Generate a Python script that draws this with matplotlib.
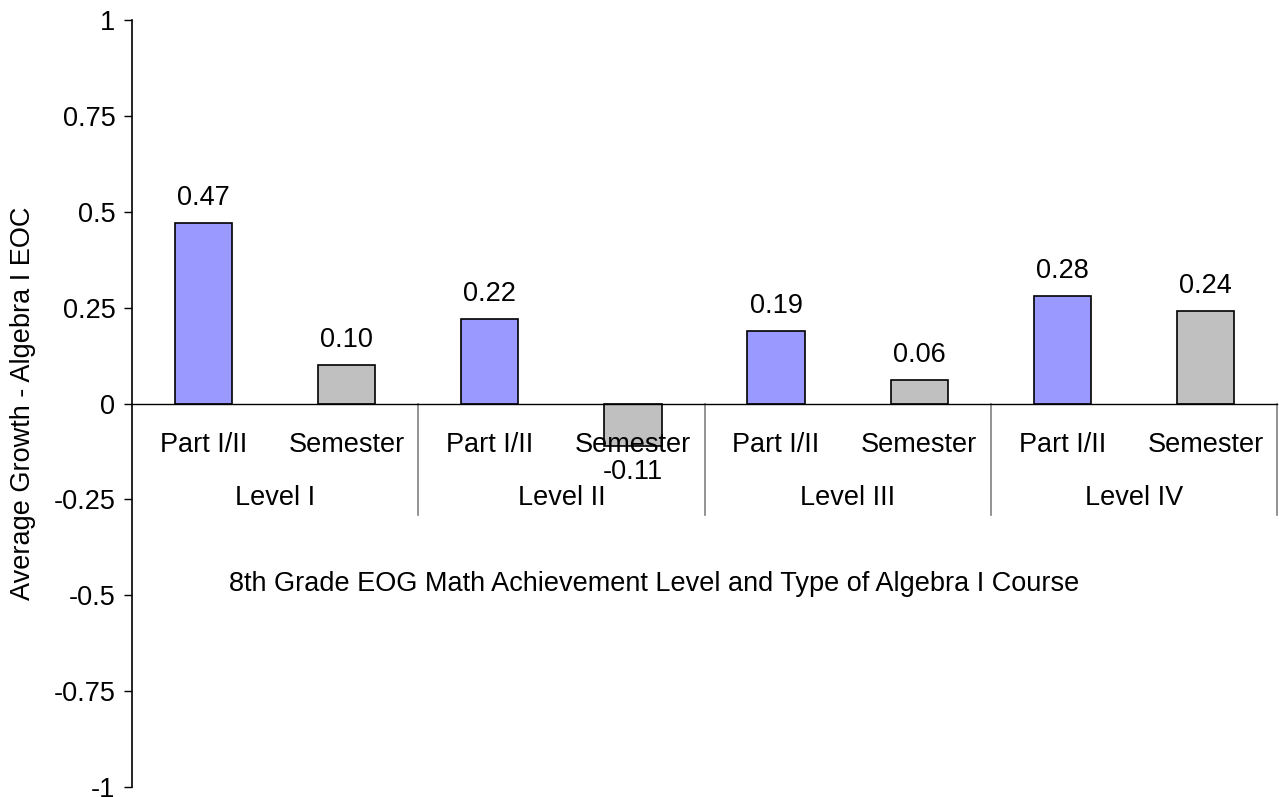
import matplotlib.pyplot as plt
import numpy as np

plt.rcParams['font.family'] = ['Liberation Sans', 'DejaVu Sans']

levels = ["Level I", "Level II", "Level III", "Level IV"]
courses = ["Part I/II", "Semester"]
values = [0.47, 0.10, 0.22, -0.11, 0.19, 0.06, 0.28, 0.24]
labels = ["0.47", "0.10", "0.22", "-0.11", "0.19", "0.06", "0.28", "0.24"]
colors = ["#9999FF", "#C0C0C0"] * 4
yticks = [-1, -0.75, -0.5, -0.25, 0, 0.25, 0.5, 0.75, 1]
yticklabels = ["-1", "-0.75", "-0.5", "-0.25", "0", "0.25", "0.5", "0.75", "1"]

fs = 19.5

fig = plt.figure(figsize=(12.79, 7.97), dpi=100)
ax = fig.add_axes([132 / 1279, 1 - 787 / 797, (1277 - 132) / 1279, (787 - 20) / 797])

x = np.arange(len(values))
ax.bar(x, values, width=0.4, color=colors, edgecolor="black", linewidth=1.2, zorder=2)

ax.set_xlim(-0.5, 7.5)
ax.set_ylim(-1, 1)
ax.set_yticks(yticks)
ax.set_yticklabels(yticklabels, fontsize=fs)
ax.tick_params(axis="y", direction="out", length=6, width=1, pad=6)
ax.set_xticks([])

for s in ["top", "right"]:
    ax.spines[s].set_visible(False)
ax.spines["bottom"].set_position(("data", 0))
ax.spines["bottom"].set_linewidth(1)
ax.spines["left"].set_linewidth(1.2)

# value labels
for xi, v, lab in zip(x, values, labels):
    if v >= 0:
        ax.annotate(lab, (xi, v), xytext=(0, 18), textcoords="offset points",
                    ha="center", va="center", fontsize=fs, zorder=5)
    else:
        ax.annotate(lab, (xi, v), xytext=(0, -19), textcoords="offset points",
                    ha="center", va="center", fontsize=fs, zorder=5)

# category / group labels
for xi in x:
    ax.text(xi, -0.107, courses[xi % 2], ha="center", va="center", fontsize=fs, zorder=5)
for i, lv in enumerate(levels):
    ax.text(2 * i + 0.5, -0.247, lv, ha="center", va="center", fontsize=fs)

# group separators
for sx in [1.5, 3.5, 5.5, 7.5]:
    ax.plot([sx, sx], [0, -0.29], color="#808080", linewidth=1.2, clip_on=False, zorder=1)

ax.text(3.15, -0.47, "8th Grade EOG Math Achievement Level and Type of Algebra I Course",
        ha="center", va="center", fontsize=fs)

fig.text(23 / 1279, 1 - 403 / 797, "Average Growth - Algebra I EOC", rotation=90,
         ha="center", va="center", fontsize=fs)

fig.savefig("out.png", dpi=100)
